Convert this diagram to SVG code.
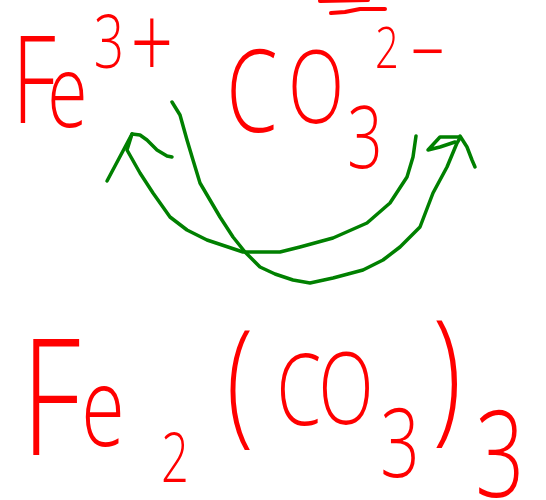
<svg xmlns="http://www.w3.org/2000/svg" width="546" height="500" viewBox="0 0 546 500">
<style>
.f{font-family:"Open Sans","Liberation Sans","DejaVu Sans",sans-serif;font-weight:300;fill:#ff0000;text-anchor:middle}
.g{fill:none;stroke:#008000;stroke-width:3.5;stroke-linecap:round;stroke-linejoin:round}
.r{fill:none;stroke:#ff0000;stroke-width:4;stroke-linecap:round;stroke-linejoin:round}
</style>
<rect width="546" height="500" fill="#ffffff"/>
<g id="fe3plus">
<text class="f" transform="scale(0.72,1)"><tspan x="47" y="123" font-size="121">F</tspan><tspan x="93.75" y="127" font-size="102">e</tspan><tspan x="151.4" y="68" font-size="74">3</tspan><tspan x="211" y="79" font-size="104">+</tspan></text>
</g>
<g id="co3">
<text class="f" transform="scale(0.72,1)"><tspan x="350" y="132" font-size="115">C</tspan><tspan x="438.9" y="123" font-size="102">O</tspan><tspan x="507" y="168" font-size="86">3</tspan><tspan x="537.5" y="68" font-size="58">2</tspan><tspan x="594" y="81" font-size="84">−</tspan></text>
<path class="r" d="M320,1 L368,0 M331,13 L345,12 L360,9 L385,9"/>
</g>
<g id="product">
<text class="f" transform="scale(0.72,1)"><tspan x="70.8" y="455" font-size="163">F</tspan><tspan x="143" y="446" font-size="110">e</tspan><tspan x="243" y="482" font-size="68">2</tspan><tspan x="333" y="428" font-size="136">(</tspan><tspan x="415" y="425" font-size="100">C</tspan><tspan x="480.6" y="424" font-size="100">O</tspan><tspan x="555.6" y="477" font-size="96">3</tspan><tspan x="620.8" y="425" font-size="146">)</tspan><tspan x="694.4" y="497" font-size="120">3</tspan></text>
</g>
<g id="connectors">
<path class="g" d="M172,102 L180,115 L187,140 L193,160 L200,183 L210,200 L220,217 L233,237 L245,252 L260,267 L275,274 L293,280 L310,283 L333,278 L363,270 L383,260 L400,247 L420,227 L433,193 L447,167 L457,143 L460,138"/>
<path class="g" d="M460,137 L440,137 L428,150 L440,147 L455,142 M460,136 L467,147 L472,160 L475,167"/>
<path class="g" d="M416,136 L413,157 L407,177 L390,203 L367,223 L333,238 L300,247 L280,252 L243,252 L207,240 L187,230 L170,217 L153,193 L140,173 L127,150 L132,134"/>
<path class="g" d="M132,134 L107,181 M132,134 L140,135 L147,140 L157,150 L167,156 L172,157"/>
</g>
</svg>
